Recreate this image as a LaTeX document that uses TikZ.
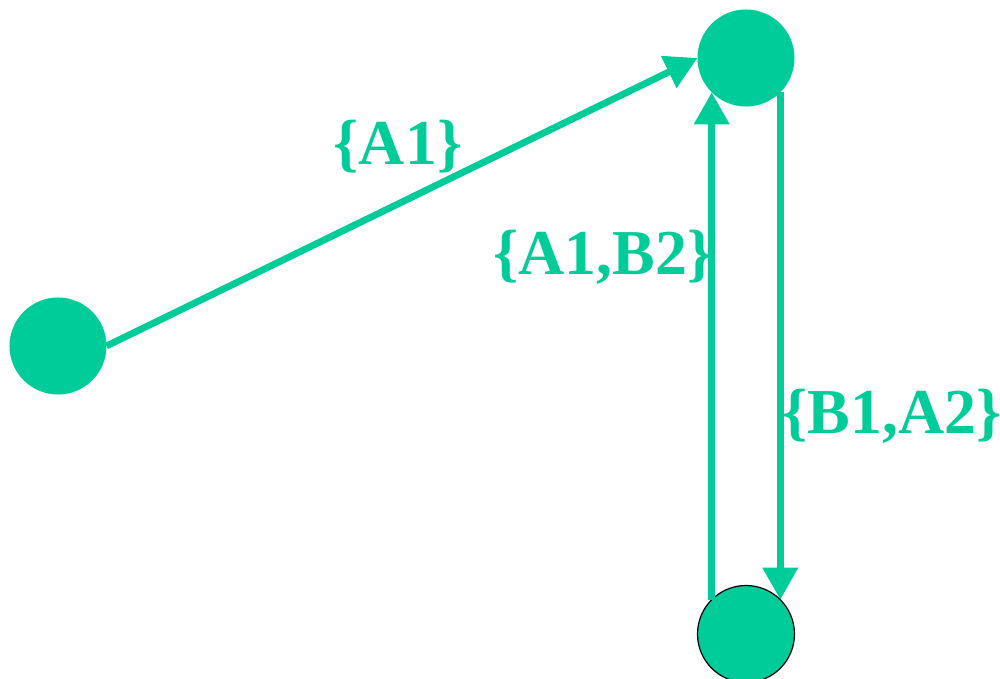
\documentclass[tikz,border=0pt]{standalone}
\usepackage{fontspec}
\setmainfont{Liberation Serif}
\usepackage{xcolor}
\usetikzlibrary{arrows.meta}
\definecolor{statecol}{RGB}{0,204,153}

\begin{document}
\begin{tikzpicture}[
  x=0.25mm, y=-0.25mm,
  every node/.style={font=\fontsize{45.5}{50}\selectfont\bfseries},
  state/.style={circle, fill=statecol, minimum size=24.25mm, inner sep=0pt, outer sep=0pt},
  lbl/.style={text=statecol, inner sep=0pt},
  edge/.style={draw=statecol, line width=1.7mm},
  >={Triangle[length=8mm,width=8.5mm]}
]
\useasboundingbox (0,0) rectangle (1000,679);
\node[state] (s0) at (58,346) {};
\node[state] (s1) at (746,58) {};
\node[state, draw=black, line width=0.3mm] (s2) at (746,634) {};
\draw[edge,->] (s0.east) -- (s1.west);
\draw[edge,->] (s1.-45) -- (s2.45);
\draw[edge,->] (s2.135) -- (s1.-135);
\node[lbl] (l01) at (398,147) {\{A1\}};
\node[lbl] (l21) at (603,257) {\{A1,B2\}};
\node[lbl] (l12) at (892,416) {\{B1,A2\}};
\end{tikzpicture}
\end{document}
